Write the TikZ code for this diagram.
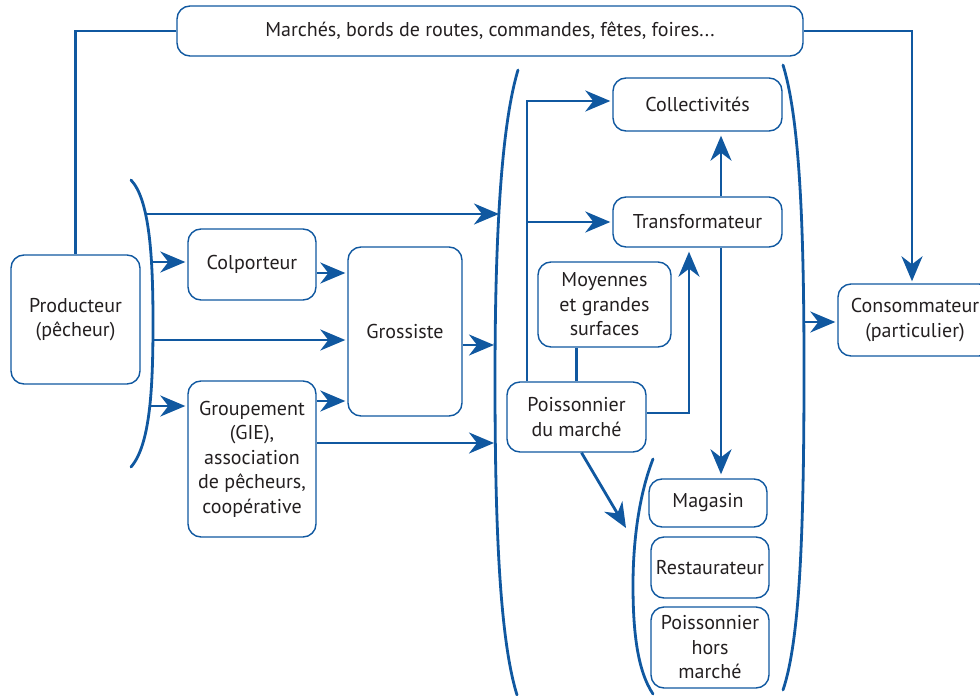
\documentclass[tikz,border=0pt]{standalone}
\usepackage{fontspec}
\setmainfont{PT Sans}
\usetikzlibrary{arrows.meta}
\definecolor{fleuve}{RGB}{16,88,160}
\definecolor{encre}{RGB}{35,31,32}

\begin{document}
\begin{tikzpicture}[x=1pt,y=-1pt,
  box/.style={draw=fleuve,line width=1.4pt,rounded corners=13pt,align=center,
    text=encre,inner sep=0pt,font=\fontsize{20}{24.5}\selectfont},
  flux/.style={draw=fleuve,line width=2.8pt},
  fleche/.style={flux,-{Stealth[length=25pt,width=21pt,inset=8pt]},shorten >=2pt},
  crochet/.style={draw=fleuve,line width=2.8pt,line cap=round}]

\useasboundingbox (0,0) rectangle (980,696);
\clip (0,0) rectangle (980,696);

% boxes
\node[box,minimum width=626pt,minimum height=50pt] (foire) at (490,31) {Marchés, bords de routes, commandes, fêtes, foires...};
\node[box,minimum width=129pt,minimum height=129pt] (prod) at (75.5,319.5) {Producteur\\(pêcheur)};
\node[box,minimum width=128pt,minimum height=71pt] (colp) at (252,264.5) {Colporteur};
\node[box,minimum width=114pt,minimum height=169pt] (gross) at (405,331.5) {Grossiste};
\node[box,minimum width=128pt,minimum height=156pt] (group) at (252,459) {Groupement\\(GIE),\\association\\de pêcheurs,\\coopérative};
\node[box,minimum width=169pt,minimum height=53pt] (coll) at (697.5,104.5) {Collectivités};
\node[box,minimum width=169pt,minimum height=50pt] (transf) at (697.5,222) {Transformateur};
\node[box,minimum width=133pt,minimum height=85pt] (mgs) at (604.5,304.5) {Moyennes\\et grandes\\surfaces};
\node[box,minimum width=139pt,minimum height=70pt] (poism) at (576.5,417) {Poissonnier\\du marché};
\node[box,minimum width=118pt,minimum height=48pt] (mag) at (708,503) {Magasin};
\node[box,minimum width=118pt,minimum height=61pt] (resto) at (710,567.5) {Restaurateur};
\node[box,minimum width=118pt,minimum height=81pt] (poish) at (710,647.5) {Poissonnier\\hors\\marché};
\node[box,minimum width=154pt,minimum height=72pt] (conso) at (915,320) {Consommateur\\(particulier)};

% brackets
\draw[crochet] (131,180) .. controls (150,200) and (153,260) .. (153,323) .. controls (153,390) and (150,445) .. (131,467);
\draw[crochet] (518,70) .. controls (500,130) and (495,250) .. (495,380) .. controls (495,530) and (500,640) .. (517,695);
\draw[crochet] (783,65) .. controls (800,120) and (804,230) .. (804,370) .. controls (804,530) and (800,640) .. (783,690);
\draw[crochet] (653,459) .. controls (637,500) and (633,550) .. (633,585) .. controls (633,630) and (637,670) .. (653,694);

% points on the brackets
\coordinate (pa) at (147,214);
\coordinate (pb) at (152,262);
\coordinate (pc) at (153,340);
\coordinate (pd) at (151,406);
\coordinate (ga) at (499,214);
\coordinate (gb) at (496,345);
\coordinate (gc) at (496,443);
\coordinate (da) at (803,322);
\coordinate (pe) at (626,528);
\coordinate (xa) at (527,101);
\coordinate (xb) at (721,0);
\coordinate (xc) at (689,0);

% around the top box
\draw[flux] (foire.west) -| (prod.north);
\draw[fleche] (foire.east) -| ([xshift=-3pt]conso.north);

% from the producer
\draw[fleche,shorten >=0pt] (pa) -- (ga);
\draw[fleche] (pb) -- (pb -| colp.west);
\draw[fleche] (pc) -- (pc -| gross.west);
\draw[fleche] (pd) -- (pd -| group.west);

\draw[fleche] (colp.east |- 0,273) -- (gross.west |- 0,273);
\draw[fleche] (group.east |- 0,401) -- (gross.west |- 0,401);
\draw[fleche] (group.east |- gc) -- (gc);
\draw[fleche] (gross.east |- gb) -- (gb);

% inside the market
\draw[fleche] (poism.north -| xa) -- (xa) -- (xa -| coll.west);
\draw[fleche] (xa |- transf.west) -- (transf.west);
\draw[flux] (poism.north) -- (poism.north |- mgs.south);
\draw[fleche,shorten >=4pt] (poism.east |- 0,413) -| (xc |- transf.south);
\draw[fleche,shorten >=4pt] (transf.north -| xb) -- (coll.south -| xb);
\draw[fleche,shorten >=4pt] (transf.south -| xb) -- (mag.north -| xb);
\draw[fleche,shorten >=0pt] ([xshift=5pt]poism.south) -- (pe);

\draw[fleche] (da) -- (da -| conso.west);

\end{tikzpicture}
\end{document}
